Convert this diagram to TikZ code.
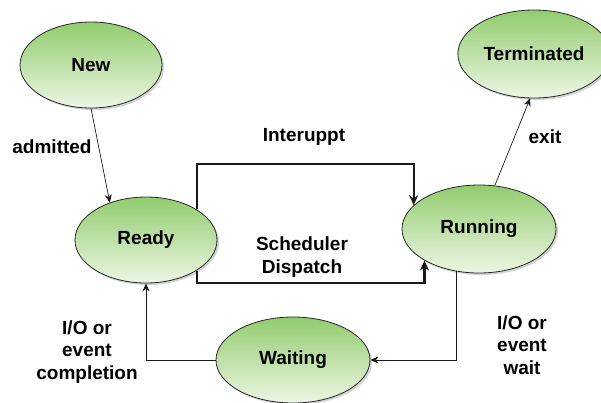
\documentclass[tikz,border=0pt]{standalone}
\usepackage{fontspec}
\setmainfont{Liberation Sans}
\usetikzlibrary{shapes.geometric,arrows.meta,shadows}
\definecolor{stategreen}{RGB}{146,204,110}
\definecolor{statelight}{RGB}{236,246,228}
\tikzset{
  state/.style={ellipse, draw=black!85, line width=0.8pt, top color=stategreen,
    bottom color=statelight, minimum width=142pt, minimum height=86pt,
    font=\bfseries\fontsize{19}{22}\selectfont,
    drop shadow={shadow xshift=2pt, shadow yshift=-2pt, opacity=0.35}},
  lbl/.style={font=\bfseries\fontsize{19}{22.5}\selectfont, align=center},
  flow/.style={-{Stealth[length=8pt,width=7pt]}, black!90, line width=0.7pt},
  bigflow/.style={-{Stealth[length=10pt,width=9pt]}, black!90, line width=2.2pt}
}
\begin{document}
\begin{tikzpicture}[x=1pt,y=-1pt]
  \useasboundingbox (0,0) rectangle (601,402);
  % states
  \node[state] (new) at (91,65) {New};
  \node[state, minimum width=134pt, minimum height=88pt] (term) at (534,54) {Terminated};
  \node[state] (ready) at (146,240) {Ready};
  \node[state, minimum width=154pt, minimum height=88pt] (run) at (479,229) {Running};
  \node[state, minimum width=154pt, minimum height=86pt] (wait) at (293,360) {Waiting};
  % labels
  \node[lbl] (admit) at (52,147) {admitted};
  \node[lbl] (intr) at (304,137) {Interuppt};
  \node[lbl] (disp) at (302,257) {Scheduler\\Dispatch};
  \node[lbl] (exit) at (545,137) {exit};
  \node[lbl] (iocomp) at (87,352) {I/O or\\event\\completion};
  \node[lbl] (iowait) at (522,345) {I/O or\\event\\wait};
  % bends of the box
  \coordinate (topmid) at (304,164);
  \coordinate (botmid) at (302,283);
  % transitions
  \draw[flow] (new.south) -- (ready.134);
  \draw[flow] (run.70) -- (term.265);
  \draw[bigflow] (ready.31) |- (topmid) -| (run.160);
  \draw[bigflow] (ready.-31) |- (botmid) -| (run.210);
  \draw[flow] (run.242) |- (wait.east);
  \draw[flow] (wait.west) -| (ready.south);
\end{tikzpicture}
\end{document}
